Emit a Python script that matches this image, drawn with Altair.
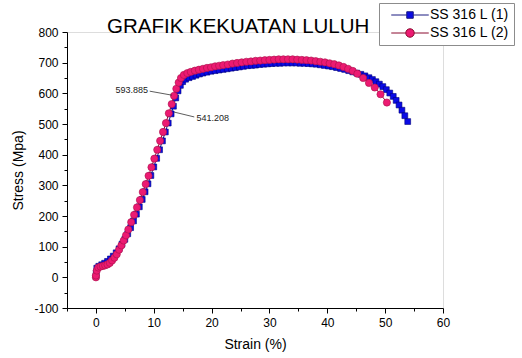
import altair as alt
import pandas as pd

# ---- data ----
series_names = ["SS 316 L (1)", "SS 316 L (2)"]

strain1 = [0, 0.05, 0.15, 0.5, 1.0, 1.5, 2.0, 2.5, 3.0, 3.5, 4.0, 4.5, 5.0, 5.5, 6.0, 6.5, 7.0, 7.5, 8.0, 8.5,
           9.0, 9.5, 10.0, 10.5, 11.0, 11.5, 12.0, 12.5, 13.0, 13.4, 13.8, 14.2, 14.6, 15.0, 15.5, 16.1, 16.7,
           17.3, 17.9, 18.5, 19.2, 19.9, 20.6, 21.3, 22.0, 22.7, 23.4, 24.1, 24.8, 25.5, 26.2, 26.9, 27.6,
           28.3, 29.0, 29.7, 30.4, 31.1, 31.8, 32.5, 33.2, 33.9, 34.6, 35.3, 36.0, 36.7, 37.4, 38.1, 38.8,
           39.5, 40.2, 40.9, 41.6, 42.3, 43.0, 43.7, 44.4, 45.1, 45.8, 46.5, 47.2, 47.8, 48.4, 49.0, 49.6,
           50.2, 50.8, 51.4, 51.9, 52.4, 52.9, 53.4, 53.9]
stress1 = [3, 14, 30, 36, 41, 46, 52, 60, 69, 80, 93, 108, 124, 142, 162, 184, 206, 230, 254, 279,
           305, 332, 360, 388, 416, 445, 474, 503, 533, 558, 585, 608, 626, 638, 646, 651, 655,
           659, 663, 666, 669, 672, 674, 676, 678, 680, 682, 684, 686, 688, 690, 691, 692,
           694, 695, 696, 697, 698, 698, 699, 699, 699, 699, 698, 698, 697, 696, 695, 693,
           691, 689, 687, 684, 681, 678, 674, 670, 666, 662, 657, 651, 645, 638, 630, 622,
           612, 601, 590, 577, 562, 545, 527, 508]

strain2 = [0, 0, 0.15, 0.4, 0.8, 1.2, 1.6, 2.0, 2.4, 2.8, 3.2, 3.6, 4.0, 4.4, 4.8, 5.2, 5.6, 6.1, 6.6,
           7.1, 7.6, 8.1, 8.6, 9.1, 9.6, 10.1, 10.6, 11.1, 11.6, 12.1, 12.6, 13.1, 13.5, 13.9, 14.3, 14.7,
           15.2, 15.8, 16.4, 17.1, 17.8, 18.5, 19.2, 19.9, 20.6, 21.3, 22.0, 22.8, 23.6, 24.4, 25.2, 26.0,
           26.8, 27.6, 28.4, 29.2, 30.0, 30.8, 31.6, 32.4, 33.2, 34.0, 34.8, 35.6, 36.4, 37.2, 38.0, 38.8,
           39.6, 40.4, 41.2, 42.0, 42.8, 43.6, 44.4, 45.2, 46.2, 47.2, 48.2, 49.2, 50.3]
stress2 = [0, 6, 22, 32, 35, 37, 39, 42, 47, 55, 64, 75, 90, 104, 120, 137, 156, 180, 204,
           228, 252, 278, 304, 331, 359, 387, 416, 445, 474, 503, 535, 565, 592, 615, 635, 650,
           660, 666, 670, 674, 677, 680, 683, 685, 688, 690, 692, 694, 697, 699, 701, 703,
           704, 706, 707, 708, 709, 710, 711, 711, 711, 711, 710, 709, 708, 707, 705, 703,
           701, 698, 695, 691, 686, 680, 673, 664, 650, 634, 619, 597, 570]

# annotations (label, label position, leader start, leader end)
ann_text = ["593.885", "541.208"]
ann_tx = [9.0, 17.4]
ann_ty = [611, 519]
ann_align = ["right", "left"]
ann_x1 = [9.3, 13.5]
ann_y1 = [607, 539]
ann_x2 = [13.15, 17.0]
ann_y2 = [594, 523]

x_ticks = list(range(-5, 61, 5))
y_ticks = list(range(-100, 801, 50))

assert len(strain1) == len(stress1) and len(strain2) == len(stress2)

rows = []
for i, (s, v) in enumerate(zip(strain1, stress1)):
    rows.append({"series": series_names[0], "strain": s, "stress": v, "idx": i})
for i, (s, v) in enumerate(zip(strain2, stress2)):
    rows.append({"series": series_names[1], "strain": s, "stress": v, "idx": i})
df = pd.DataFrame(rows)

ann_lbl = pd.DataFrame({"text": ann_text, "strain": ann_tx, "stress": ann_ty, "align": ann_align})
ann_ln = pd.DataFrame({"strain": ann_x1, "stress": ann_y1, "strain_e": ann_x2, "stress_e": ann_y2})

FONT = "Liberation Sans"

xscale = alt.Scale(domain=[-5, 60], nice=False, zero=False)
yscale = alt.Scale(domain=[-100, 800], nice=False, zero=False)

xaxis = alt.Axis(
    values=x_ticks, title="Strain (%)", grid=False,
    labelExpr="datum.value % 10 === 0 ? '' + datum.value : ''",
    tickSize={"condition": {"test": "datum.value % 10 !== 0", "value": 3}, "value": 5},
    domainColor="black", tickColor="black", labelColor="black", titleColor="black",
    labelFont=FONT, titleFont=FONT, labelFontSize=12, titleFontSize=14, titleFontWeight="normal",
    labelPadding=4, titlePadding=9, labelFlush=False, labelOverlap=False,
)
yaxis = alt.Axis(
    values=y_ticks, title="Stress (Mpa)", grid=False,
    labelExpr="datum.value % 100 === 0 ? '' + datum.value : ''",
    tickSize={"condition": {"test": "datum.value % 100 !== 0", "value": 3}, "value": 5},
    domainColor="black", tickColor="black", labelColor="black", titleColor="black",
    labelFont=FONT, titleFont=FONT, labelFontSize=12, titleFontSize=14, titleFontWeight="normal",
    labelPadding=4, titlePadding=8, labelFlush=False, labelOverlap=False,
)

X = alt.X("strain:Q", scale=xscale, axis=xaxis)
Y = alt.Y("stress:Q", scale=yscale, axis=yaxis)


def series_layers(name, line_col, fill_col, edge_col, shape, size):
    base = alt.Chart(df).transform_filter(alt.datum.series == name)
    line = base.mark_line(color=line_col, strokeWidth=1).encode(x=X, y=Y, order="idx:Q")
    pts = base.mark_point(shape=shape, filled=True, fill=fill_col, stroke=edge_col,
                          strokeWidth=0.6, size=size, opacity=1).encode(x=X, y=Y)
    return [line, pts]


blue_layers = series_layers(series_names[0], "#1a1a80", "#0a0ae6", "#00007a", "square", 34)
pink_layers = series_layers(series_names[1], "#8a0b2e", "#ec1a72", "#a8104a", "circle", 52)

legend_paths = [
    "M-3.75,0H-0.65M0.65,0H3.75M-0.65,-0.65H0.65V0.65H-0.65Z",
    "M-3.75,0H-0.85M0.85,0H3.75M-0.85,0A0.85,0.85,0,1,0,0.85,0A0.85,0.85,0,1,0,-0.85,0Z",
]
leg_scale_fill = alt.Scale(domain=series_names, range=["#0a0ae6", "#ec1a72"])
leg_scale_stroke = alt.Scale(domain=series_names, range=["#1a1a80", "#8a0b2e"])
leg_scale_shape = alt.Scale(domain=series_names, range=legend_paths)
legend = alt.Legend(
    title=None, orient="none", legendX=312, legendY=-29,
    padding=5, rowPadding=4, strokeColor="#8c8c8c", fillColor="white",
    labelFont=FONT, labelFontSize=14, labelColor="black",
    symbolOffset=19, labelOffset=13, symbolStrokeWidth=1, symbolOpacity=1,
)
legend_layer = alt.Chart(df).transform_filter("false").mark_point(
    filled=True, size=64, strokeWidth=1, opacity=1).encode(
    x=X, y=Y,
    fill=alt.Fill("series:N", scale=leg_scale_fill, legend=legend),
    stroke=alt.Stroke("series:N", scale=leg_scale_stroke, legend=legend),
    shape=alt.Shape("series:N", scale=leg_scale_shape, legend=legend),
)

ann_lines = alt.Chart(ann_ln).mark_rule(color="#333333", strokeWidth=0.8).encode(
    x=X, y=Y, x2="strain_e:Q", y2="stress_e:Q")
ann_labels_r = alt.Chart(ann_lbl).transform_filter(alt.datum.align == "right").mark_text(
    align="right", baseline="middle", font=FONT, fontSize=9, color="#222222").encode(
    x=X, y=Y, text="text:N")
ann_labels_l = alt.Chart(ann_lbl).transform_filter(alt.datum.align == "left").mark_text(
    align="left", baseline="middle", font=FONT, fontSize=9, color="#222222").encode(
    x=X, y=Y, text="text:N")

chart = alt.layer(
    *blue_layers, *pink_layers, legend_layer, ann_lines, ann_labels_r, ann_labels_l
).properties(
    width=376, height=276,
    title=alt.TitleParams("GRAFIK KEKUATAN LULUH", anchor="start", frame="group", dx=40, dy=51,
                          offset=0, baseline="alphabetic", font=FONT, fontSize=20.5,
                          fontWeight="normal", color="black"),
    autosize=alt.AutoSizeParams(type="none"),
    padding={"left": 67, "top": 32, "right": 79, "bottom": 50},
).configure_view(stroke=None).configure(background="white")

chart.save("out.html", embed_options={"renderer": "svg", "actions": False})
